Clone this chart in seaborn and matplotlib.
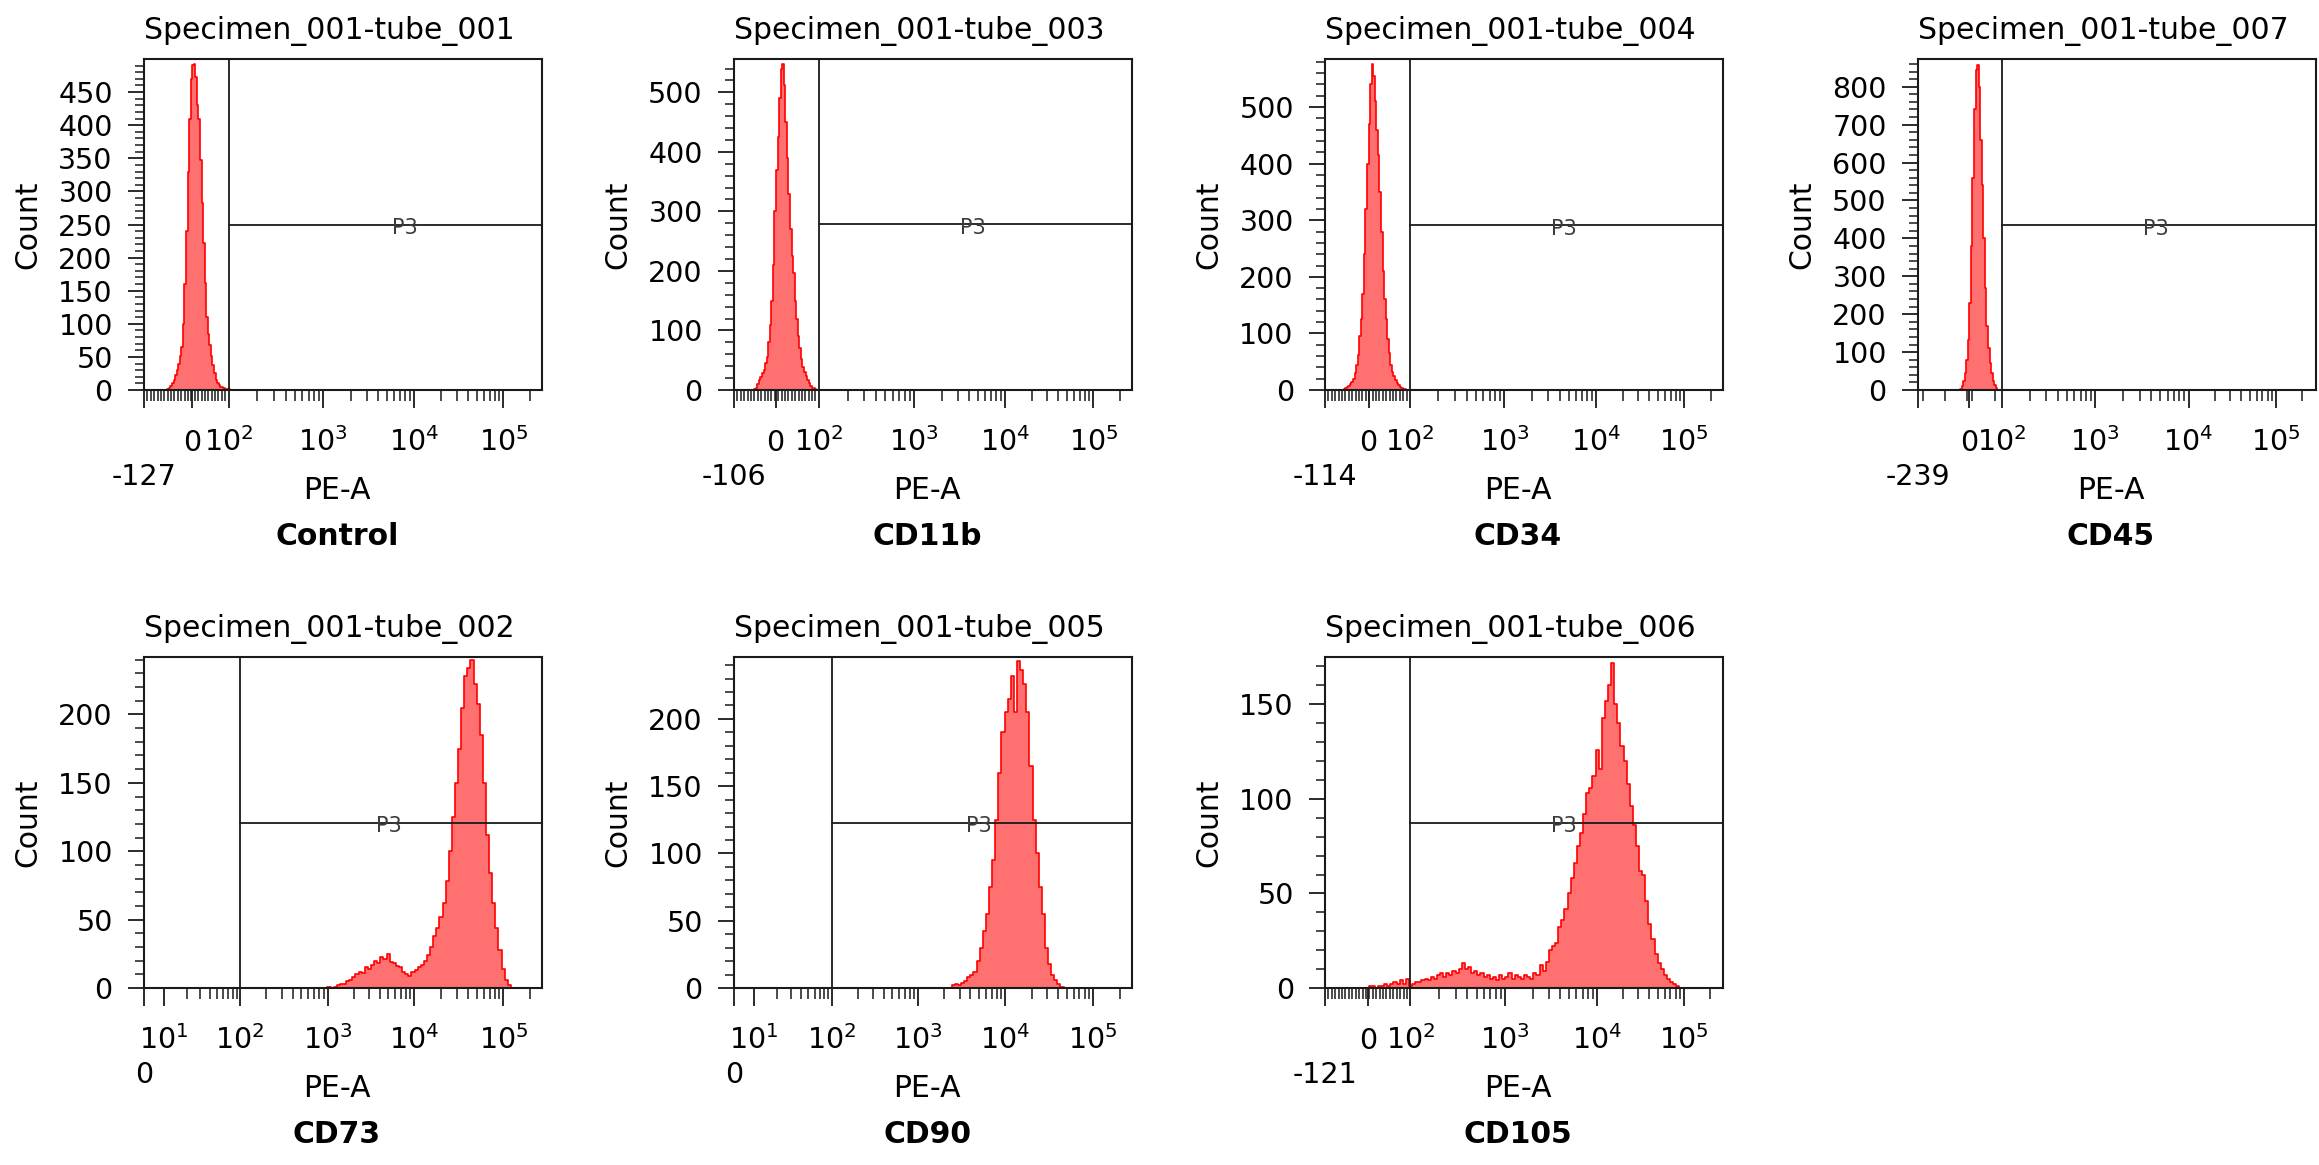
import numpy as np
import pandas as pd
import seaborn as sns
import matplotlib.pyplot as plt
import matplotlib.transforms as mtransforms
from matplotlib.ticker import FixedLocator

# x is in display channels of the cytometer plot: 0 = left edge, 256 = right edge
tubes = [
    "Specimen_001-tube_001", "Specimen_001-tube_003", "Specimen_001-tube_004",
    "Specimen_001-tube_007", "Specimen_001-tube_002", "Specimen_001-tube_005",
    "Specimen_001-tube_006",
]
markers = ["Control", "CD11b", "CD34", "CD45", "CD73", "CD90", "CD105"]
low_labels = ["-127", "-106", "-114", "-239", "0", "0", "-121"]
zero_channel = [30.8, 26.8, 28.1, 33.0, None, None, 27.8]
decade_channel = [
    {2: 54.4, 3: 115.3, 4: 173.8, 5: 231.2},
    {2: 54.6, 3: 115.9, 4: 174.5, 5: 231.1},
    {2: 54.7, 3: 115.4, 4: 174.4, 5: 231.0},
    {2: 54.0, 3: 113.9, 4: 174.0, 5: 230.3},
    {1: 12.6, 2: 61.8, 3: 118.2, 4: 173.8, 5: 231.2},
    {1: 12.9, 2: 62.9, 3: 118.4, 4: 174.3, 5: 231.0},
    {2: 54.9, 3: 115.9, 4: 174.8, 5: 230.9},
]
y_max = [500, 556, 585, 873, 242, 246, 175]
y_major = [50, 100, 100, 100, 50, 50, 50]
y_minor = [10, 20, 20, 20, 10, 10, 10]
gate_count = [250, 278, 292, 436, 121, 123, 87.5]
p3_pos = [0.656, 0.600, 0.599, 0.598, 0.616, 0.616, 0.601]

# histogram counts (first bin channel, bin width, counts)
control_start, control_width = 15, 1
control_counts = [1, 3, 6, 10, 15, 22, 30, 40, 52, 65, 100, 160, 240, 330, 410, 470,
                  491, 493, 473, 430, 410, 347, 282, 222, 161, 110, 85, 68, 52, 38,
                  25, 15, 10, 7, 5, 4, 3, 2, 2, 1]
cd11b_start, cd11b_width = 12, 1
cd11b_counts = [0, 1, 4, 10, 16, 22, 28, 34, 45, 55, 80, 110, 150, 210, 300, 370, 425,
                490, 540, 547, 512, 450, 390, 330, 270, 225, 196, 150, 120, 90, 71,
                52, 38, 30, 23, 16, 11, 7, 4, 3, 1]
cd34_start, cd34_width = 11, 1
cd34_counts = [0, 1, 3, 5, 7, 10, 15, 20, 30, 45, 62, 95, 125, 170, 240, 320, 400, 470,
               540, 577, 555, 510, 460, 415, 350, 280, 210, 160, 125, 90, 65, 45, 32,
               24, 17, 12, 9, 6, 4, 2, 1]
cd45_start, cd45_width = 27, 1
cd45_counts = [2, 10, 25, 45, 80, 132, 230, 380, 560, 740, 845, 858, 800, 660, 540,
               400, 270, 170, 110, 70, 45, 25, 12, 5, 1]
cd73_start, cd73_width = 118, 2
cd73_counts = [1, 0, 1, 2, 3, 3, 5, 6, 8, 10, 12, 11, 15, 14, 17, 20, 18, 23, 21, 25,
               19, 18, 16, 15, 12, 10, 9, 12, 13, 15, 17, 20, 24, 30, 38, 44, 52, 62,
               78, 100, 125, 150, 175, 205, 228, 234, 240, 222, 208, 185, 150, 112,
               84, 62, 44, 28, 14, 6, 2]
cd90_start, cd90_width = 140, 2
cd90_counts = [2, 3, 2, 4, 5, 8, 10, 12, 20, 30, 42, 55, 75, 95, 125, 160, 190, 205,
               215, 232, 205, 243, 236, 226, 205, 165, 125, 100, 75, 55, 30, 18, 10,
               6, 3, 1]
cd105_start, cd105_width = 26, 2
cd105_counts = [0, 1, 1, 0, 1, 1, 2, 1, 2, 3, 2, 4, 2, 5, 1, 2, 3, 3, 4, 5, 4, 6, 5,
                7, 8, 6, 8, 7, 9, 8, 10, 13, 10, 11, 8, 9, 7, 8, 6, 7, 5, 6, 4, 7, 5,
                6, 8, 5, 7, 6, 5, 7, 6, 5, 8, 7, 12, 9, 14, 20, 22, 24, 32, 36, 42,
                50, 58, 66, 75, 82, 92, 103, 106, 112, 126, 116, 143, 152, 160, 172,
                150, 140, 128, 120, 108, 96, 86, 75, 62, 60, 46, 34, 26, 18, 13, 10,
                7, 5, 3, 2, 1]

hists = [
    (control_start, control_width, control_counts),
    (cd11b_start, cd11b_width, cd11b_counts),
    (cd34_start, cd34_width, cd34_counts),
    (cd45_start, cd45_width, cd45_counts),
    (cd73_start, cd73_width, cd73_counts),
    (cd90_start, cd90_width, cd90_counts),
    (cd105_start, cd105_width, cd105_counts),
]

sns.set_theme(style="ticks")
plt.rcParams["font.family"] = ["DejaVu Sans"]
plt.rcParams["mathtext.fontset"] = "dejavusans"
plt.rcParams["text.color"] = "black"

W, H = 2319, 1165
fig = plt.figure(figsize=(W / 100, H / 100), dpi=100)

col_left = [144, 734, 1325, 1918]
row_top = [59, 657]
ax_w, ax_h = 398, 331
slots = [(0, 0), (0, 1), (0, 2), (0, 3), (1, 0), (1, 1), (1, 2)]

FS = 20.5
dark = "#1a1a1a"


def px_offset(dx, dy):
    return mtransforms.ScaledTranslation(dx / 100, dy / 100, fig.dpi_scale_trans)


def log_minor(dec):
    exps = sorted(dec)
    pos = []
    for a, b in zip(exps[:-1], exps[1:]):
        pos += [dec[a] + np.log10(m) * (dec[b] - dec[a]) for m in range(2, 10)]
    step = dec[exps[-1]] - dec[exps[-2]]
    pos += [dec[exps[-1]] + np.log10(m) * step for m in range(2, 10)
            if dec[exps[-1]] + np.log10(m) * step < 256]
    return pos


for i, (row, col) in enumerate(slots):
    left = col_left[col]
    top = row_top[row]
    ax = fig.add_axes([left / W, 1 - (top + ax_h) / H, ax_w / W, ax_h / H])

    start, width, counts = hists[i]
    centers = start + width * (np.arange(len(counts)) + 0.5)
    df = pd.DataFrame({"channel": centers, "count": counts})
    sns.histplot(data=df, x="channel", weights="count", binwidth=width,
                 binrange=(start, start + width * len(counts)), element="step",
                 fill=True, color="#ff0000", alpha=0.56, linewidth=1.2, ax=ax)

    ax.set_xlim(0, 256)
    ax.set_ylim(0, y_max[i])
    ax.set_xlabel("")
    ax.set_ylabel("")

    dec = decade_channel[i]
    c100 = dec[2]
    # gate P3
    ax.axvline(c100, color=dark, lw=1.3, zorder=5)
    ax.plot([c100, 256], [gate_count[i], gate_count[i]], color=dark, lw=1.3, zorder=5)
    p3_tr = mtransforms.blended_transform_factory(ax.transAxes, ax.transData) + px_offset(0, -4)
    ax.text(p3_pos[i], gate_count[i], "P3", transform=p3_tr, ha="center", va="center",
            fontsize=15, color="#3c3c3c", zorder=6)

    # x ticks
    major = [0] + sorted(dec.values())
    minor = log_minor(dec)
    if zero_channel[i] is not None:
        major.append(zero_channel[i])
        if i == 3:
            minor += [3.3, 17.6, 31.5, 35.0, 49.7]
        else:
            minor += list(np.linspace(0, c100, 26)[1:-1])
    ax.xaxis.set_major_locator(FixedLocator(major))
    ax.xaxis.set_minor_locator(FixedLocator(minor))
    ax.tick_params(axis="x", which="major", length=13, width=1.3, color=dark,
                   labelbottom=False)
    ax.tick_params(axis="x", which="minor", length=8, width=1.1, color=dark)

    # y ticks
    ymaj = np.arange(0, y_max[i], y_major[i])
    ymin = [v for v in np.arange(0, y_max[i], y_minor[i]) if v % y_major[i] != 0]
    ax.yaxis.set_major_locator(FixedLocator(ymaj))
    ax.yaxis.set_minor_locator(FixedLocator(ymin))
    ax.tick_params(axis="y", which="major", length=11.5, width=1.3, color=dark,
                   labelsize=FS, pad=11, labelcolor="black")
    ax.tick_params(axis="y", which="minor", length=6.5, width=1.1, color=dark)

    for sp in ax.spines.values():
        sp.set_color(dark)
        sp.set_linewidth(1.5)
        sp.set_visible(True)

    # tick labels drawn as text so "0" and the decades share a baseline
    lab_tr = mtransforms.blended_transform_factory(ax.transData, ax.transAxes) + px_offset(0, -61)
    low_tr = mtransforms.blended_transform_factory(ax.transData, ax.transAxes) + px_offset(0, -95)
    for e, ch in dec.items():
        ax.text(ch, 0, rf"$10^{{{e}}}$", transform=lab_tr, ha="center", va="baseline",
                fontsize=FS)
    if zero_channel[i] is not None:
        ax.text(zero_channel[i], 0, "0", transform=lab_tr, ha="center", va="baseline",
                fontsize=FS)
    ax.text(0, 0, low_labels[i], transform=low_tr, ha="center", va="baseline", fontsize=FS)

    ax.text(0.485, 0, "PE-A", transform=ax.transAxes + px_offset(0, -109), ha="center",
            va="baseline", fontsize=21.5)
    ax.text(0.485, 0, markers[i], transform=ax.transAxes + px_offset(0, -155), ha="center",
            va="baseline", fontsize=21.5, fontweight="bold")
    ax.text(0.465, 1, tubes[i], transform=ax.transAxes + px_offset(0, 20), ha="center",
            va="baseline", fontsize=21.5)
    ax.text(0, 0.5, "Count", transform=ax.transAxes + px_offset(-116, 0), rotation=90,
            ha="center", va="center", fontsize=21.5)

fig.savefig("out.png", dpi=100, facecolor="white")
